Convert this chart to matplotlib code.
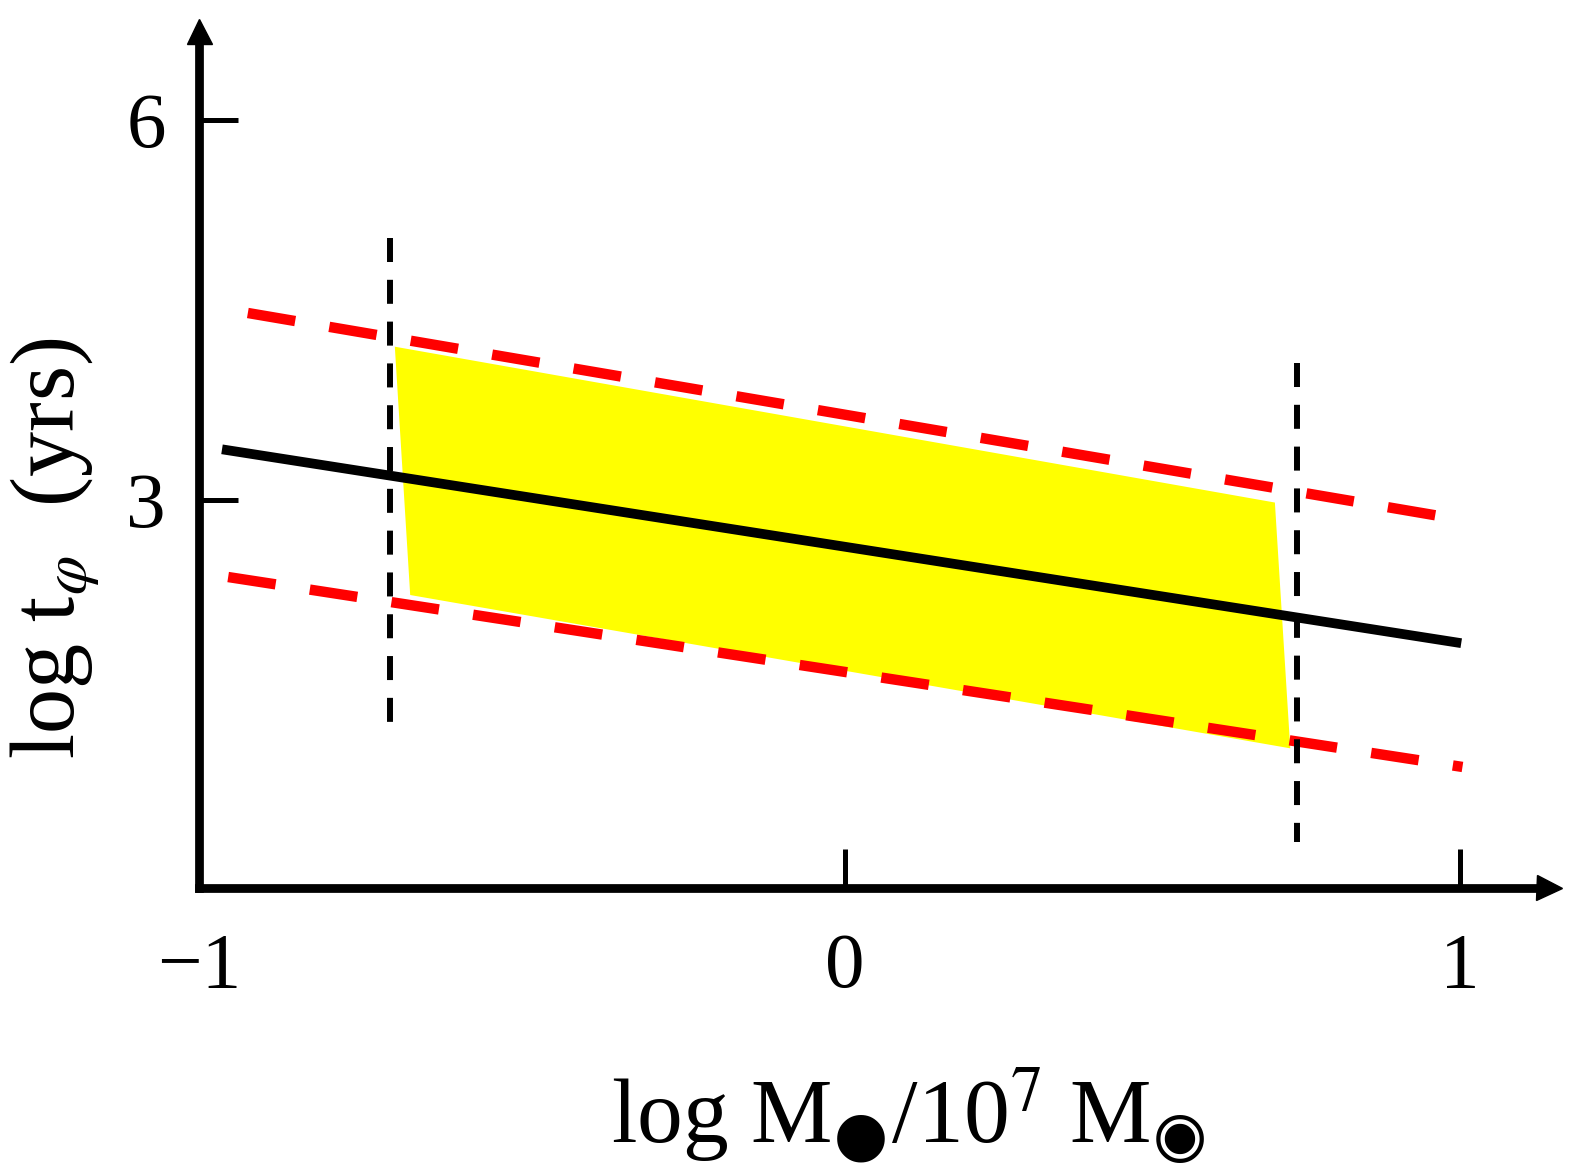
import matplotlib
matplotlib.use("Agg")
import matplotlib.pyplot as plt
from matplotlib.patches import Polygon

plt.rcParams['font.family'] = ['Liberation Serif', 'DejaVu Serif']
plt.rcParams['mathtext.fontset'] = 'stix'

# ---- data (read from the schematic) ----
fit_x = [-1.013, 1.002]
fit_y = [3.40, 1.87]
upper_x = [-0.971, 0.976]
upper_y = [4.476, 2.866]
lower_x = [-1.003, 1.004]
lower_y = [2.392, 0.893]
band_x = [-0.732, 0.699, 0.724, -0.707]
band_y = [4.21, 2.98, 1.04, 2.25]
vline_x = [-0.740, 0.735]
vline_ymin = [1.24, 0.30]
vline_ymax = [5.07, 4.08]
xtick_pos = [-1.05, 0, 1]
xtick_labels = ['\u22121', '0', '1']
ytick_pos = [3, 6]
ytick_labels = ['3', '6']

W_PX, H_PX = 1571, 1174
fig = plt.figure(figsize=(W_PX / 100, H_PX / 100), dpi=100)
xlim = (-1.05, 1.145)
ylim = (-0.06, 6.70)
# pixel mapping: px = 845 + 615 x ; py(top) = 500 - 126.7 (y - 3)
left_px = 845 + 615 * xlim[0]
right_px = 845 + 615 * xlim[1]
bot_px = 500 - 126.7 * (ylim[0] - 3)
top_px = 500 - 126.7 * (ylim[1] - 3)
ax = fig.add_axes([left_px / W_PX, 1 - bot_px / H_PX,
                   (right_px - left_px) / W_PX, (bot_px - top_px) / H_PX])
ax.set_xlim(*xlim)
ax.set_ylim(*ylim)

for s in ['top', 'right']:
    ax.spines[s].set_visible(False)
for s in ['left', 'bottom']:
    ax.spines[s].set_linewidth(6.3)
    ax.spines[s].set_color('black')

# arrow heads
ax.plot(1, 0, marker='>', ms=18, color='black', transform=ax.transAxes, clip_on=False)
ax.plot(0, 1, marker='^', ms=18, color='black', transform=ax.transAxes, clip_on=False)

ax.set_xticks(xtick_pos)
ax.set_xticklabels(xtick_labels)
ax.set_yticks(ytick_pos)
ax.set_yticklabels(ytick_labels)
ax.tick_params(axis='both', direction='in', length=28, width=3.6, labelsize=57, color='black')
ax.tick_params(axis='x', pad=32)
ax.tick_params(axis='y', pad=24)

# yellow band
ax.add_patch(Polygon(list(zip(band_x, band_y)), closed=True, facecolor='#FFFF00',
                     edgecolor='none', zorder=1))

# red dashed bounds
ax.plot(upper_x, upper_y, color='#FF0000', lw=7.5, dashes=(4.61, 3.32),
        dash_capstyle='butt', zorder=3)
ax.plot(lower_x, lower_y, color='#FF0000', lw=7.5, dashes=(4.61, 3.32),
        dash_capstyle='butt', zorder=3)

# black fit line
ax.plot(fit_x, fit_y, color='black', lw=7, solid_capstyle='butt', zorder=4)

# vertical dashed lines
for xv, y0, y1 in zip(vline_x, vline_ymin, vline_ymax):
    ax.plot([xv, xv], [y1, y0], color='black', lw=4.3, dashes=(4.02, 2.98),
            dash_capstyle='butt', zorder=4)

fig.text(908 / W_PX, 1 - 1143 / H_PX, 'log M$_{\u25CF}$/10$^{7}$ M$_{\u25C9}$',
         ha='center', va='baseline', fontsize=66)
fig.text(55 / W_PX, 1 - 548 / H_PX, 'log t$_{\\varphi}$  (yrs)', rotation=90,
         ha='center', va='center', fontsize=65)

fig.savefig('out.png', dpi=100, facecolor='white')
